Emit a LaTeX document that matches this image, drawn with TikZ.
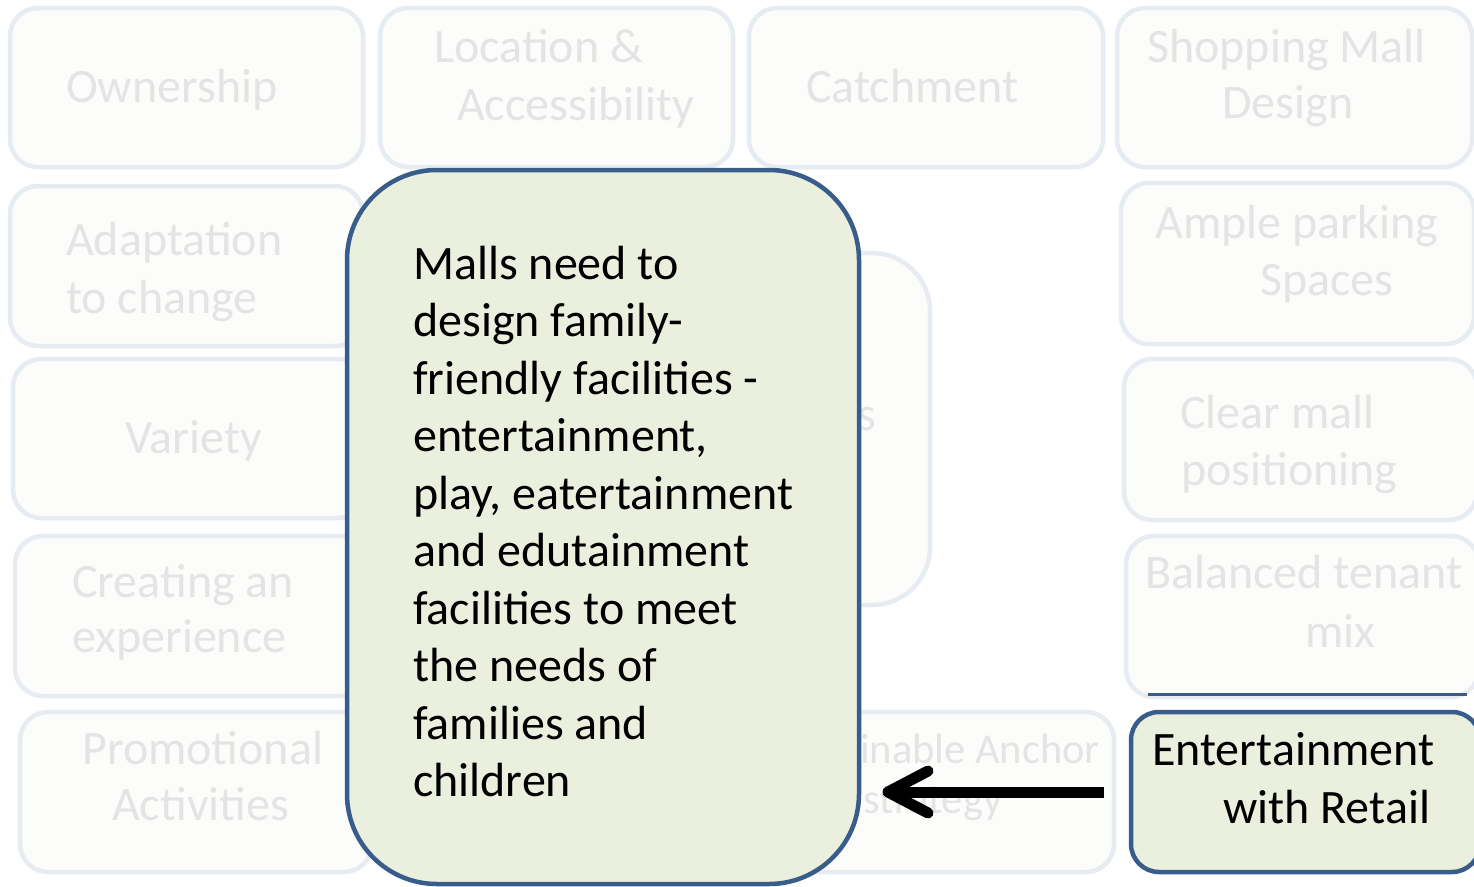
\documentclass[tikz,border=0pt]{standalone}
\usepackage{fontspec}
\setmainfont{Carlito}
\definecolor{fadefill}{RGB}{252,252,250}
\definecolor{fadeline}{RGB}{231,235,242}
\definecolor{fadetext}{RGB}{228,228,228}
\definecolor{hlfill}{RGB}{235,240,222}
\definecolor{hlline}{RGB}{56,93,138}
\begin{document}
\begin{tikzpicture}[x=1pt,y=-1pt,
  fadebox/.style={draw=fadeline,line width=4.5pt,fill=fadefill,rounded corners=28pt,inner sep=0pt,outer sep=0pt},
  fadetxt/.style={text=fadetext,font=\fontsize{48}{57}\selectfont,inner sep=0pt,anchor=base west},
  smalltxt/.style={text=fadetext,font=\fontsize{42.5}{49}\selectfont,inner sep=0pt},
  hlbox/.style={draw=hlline,line width=4.5pt,fill=hlfill,inner sep=0pt,outer sep=0pt},
  hltxt/.style={text=black,font=\fontsize{48}{57}\selectfont,inner sep=0pt,anchor=base west},
  arrowline/.style={line width=11pt,black}]
\useasboundingbox (0,0) rectangle (1474,886);
\fill[white] (0,0) rectangle (1474,886);

% faded boxes
\node[fadebox,minimum width=353pt,minimum height=159pt] (own) at (186.5,87.5) {};
\node[fadebox,minimum width=353pt,minimum height=159pt] (loc) at (556.5,87.5) {};
\node[fadebox,minimum width=354pt,minimum height=159pt] (cat) at (926,87.5) {};
\node[fadebox,minimum width=355pt,minimum height=159pt] (shop) at (1294.5,87.5) {};
\node[fadebox,minimum width=353pt,minimum height=160pt] (adapt) at (186.5,266) {};
\node[fadebox,minimum width=353pt,minimum height=161pt] (ample) at (1297.5,263.5) {};
\node[fadebox,minimum width=353pt,minimum height=159pt] (var) at (189.5,438.5) {};
\node[fadebox,minimum width=353pt,minimum height=161pt] (clear) at (1300.5,439.5) {};
\node[fadebox,minimum width=353pt,minimum height=160pt] (create) at (191.5,616) {};
\node[fadebox,minimum width=353pt,minimum height=161pt] (bal) at (1302.5,616.5) {};
\node[fadebox,minimum width=352pt,minimum height=160pt] (promo) at (196,792) {};
\node[fadebox,minimum width=362pt,minimum height=160pt] (sust) at (933,792) {};
\node[fadebox,rounded corners=58pt,minimum width=290pt,minimum height=352pt] (tall) at (785,429) {};
\draw[hlline,line width=2.5pt] ([xshift=22pt,yshift=2.5pt]bal.south west) -- ([xshift=-12pt,yshift=2.5pt]bal.south east);

% faded texts
\node[fadetxt] (t-own) at (66,102) {Ownership};
\node[fadetxt] (t-loc1) at (434,62) {Location \&};
\node[fadetxt] (t-loc2) at (457,120) {Accessibility};
\node[fadetxt] (t-cat) at (806,102) {Catchment};
\node[fadetxt] (t-shop1) at (1147,62) {Shopping Mall};
\node[fadetxt] (t-shop2) at (1222,118) {Design};
\node[fadetxt] (t-ad1) at (66,255) {Adaptation};
\node[fadetxt] (t-ad2) at (66,313) {to change};
\node[fadetxt] (t-am1) at (1155,238) {Ample parking};
\node[fadetxt] (t-am2) at (1260,295) {Spaces};
\node[fadetxt] (t-var) at (125,453) {Variety};
\node[fadetxt] (t-cl1) at (1180,428) {Clear mall};
\node[fadetxt] (t-cl2) at (1181,485) {positioning};
\node[fadetxt] (t-cr1) at (72,597) {Creating an};
\node[fadetxt] (t-cr2) at (72,652) {experience};
\node[fadetxt] (t-bal1) at (1145,588) {Balanced tenant};
\node[fadetxt] (t-bal2) at (1305,647) {mix};
\node[fadetxt] (t-pr1) at (82,764) {Promotional};
\node[fadetxt] (t-pr2) at (112,820) {Activities};
\node[fadetxt] (t-tall) at (857,430) {s};
\node[smalltxt,anchor=base east] (t-su1) at (1100,763) {Sustainable Anchor};
\node[smalltxt,anchor=base] (t-su2) at (933,813) {strategy};

% highlighted boxes
\node[hlbox,rounded corners=90pt,minimum width=512pt,minimum height=714pt] (big) at (603,527) {};
\node[anchor=base west,inner sep=0pt] (bigtxt) at (413,279) {\parbox[t]{440pt}{\raggedright\fontsize{48}{57.5}\selectfont
Malls need to\\
design family-\\
friendly facilities -\\
entertainment,\\
play, eatertainment\\
and edutainment\\
facilities to meet\\
the needs of\\
families and\\
children}};

\node[hlbox,rounded corners=28pt,minimum width=349pt,minimum height=160pt] (ent) at (1305.5,792) {};
\node[hltxt] (t-ent1) at (1152,765) {Entertainment};
\node[hltxt] (t-ent2) at (1223,823) {with Retail};

% arrow
\coordinate[xshift=29pt] (tip) at (ent.west -| big.east);
\draw[arrowline] ([xshift=-27pt]ent.west) -- ([xshift=4pt]tip);
\draw[arrowline,line cap=round,line join=round] ([shift={(40,-21)}]tip) -- (tip) -- ([shift={(40,21)}]tip);
\end{tikzpicture}
\end{document}
